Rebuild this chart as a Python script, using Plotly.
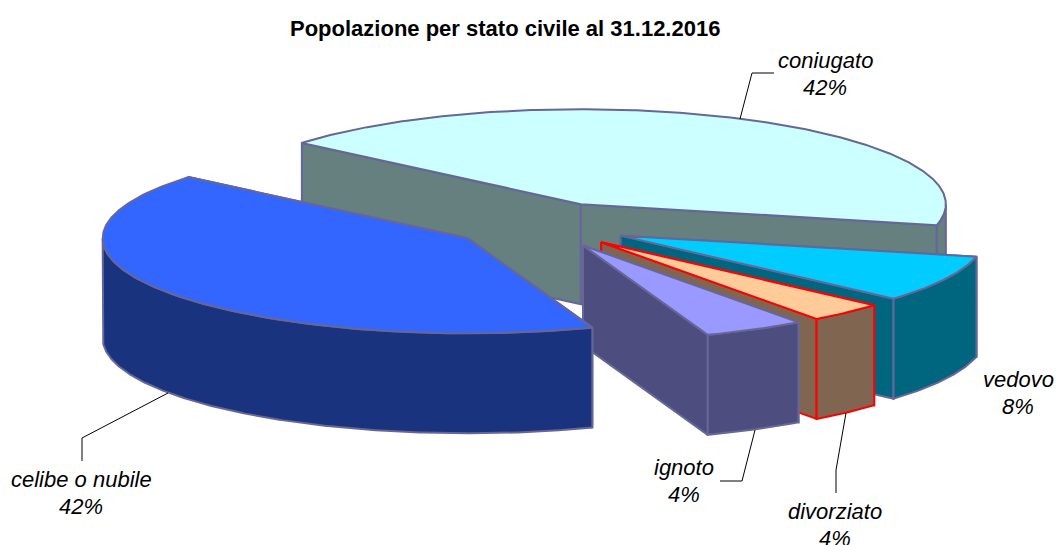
import math
import plotly.graph_objects as go

# Data, in pie order (clockwise from the start angle)
categories = ["coniugato", "vedovo", "divorziato", "ignoto", "celibe o nubile"]
shares = [42.4, 8.0, 3.4, 4.5, 41.7]
percent_labels = ["42%", "8%", "4%", "4%", "42%"]
top_colors = ["#CCFFFF", "#00CCFF", "#FFCC99", "#9999FF", "#3366FF"]
wall_colors = ["#667F7F", "#006680", "#806650", "#4D4D80", "#1A337F"]
edge_colors = ["#666699", "#666699", "#FF0000", "#666699", "#666699"]
label_x = [825, 1018, 835, 684, 81]
label_y = [60, 379, 511, 467, 479]
leaders = [
    ([740, 752, 774], [119, 73, 73]),
    None,
    ([846, 836, 836], [413, 470, 493]),
    ([755, 742, 720], [430, 481, 481]),
    ([168, 82, 82], [393, 438, 461]),
]
title_text = "Popolazione per stato civile al 31.12.2016"

# Projection of the tilted pie
CX, CY, RX, RY, DEPTH, EXPLODE, START = 541, 225, 365, 95, 100, 0.245, 139.85
LINE_GAP = 27


def point(cx, cy, deg):
    t = math.radians(deg)
    return cx + RX * math.cos(t), cy - RY * math.sin(t)


fig = go.Figure()


def poly(pts, fill, edge):
    fig.add_trace(go.Scatter(
        x=[p[0] for p in pts] + [pts[0][0]], y=[p[1] for p in pts] + [pts[0][1]],
        mode="lines", fill="toself", fillcolor=fill,
        line=dict(color=edge, width=2), hoverinfo="skip", showlegend=False))


total = sum(shares)
angle = START
slices = []
for i, s in enumerate(shares):
    span = 360 * s / total
    slices.append((i, angle, angle - span))
    angle -= span

for i, a0, a1 in slices:
    mid = math.radians((a0 + a1) / 2)
    ax = CX + EXPLODE * RX * math.cos(mid)
    ay = CY - EXPLODE * RY * math.sin(mid)
    n = max(4, int(abs(a0 - a1) * 2))
    arc_deg = [a0 + (a1 - a0) * k / n for k in range(n + 1)]
    arc = [point(ax, ay, d) for d in arc_deg]
    wall, edge = wall_colors[i], edge_colors[i]
    # radial walls
    for p in (arc[0], arc[-1]):
        poly([(ax, ay), p, (p[0], p[1] + DEPTH), (ax, ay + DEPTH)], wall, edge)
    # outer wall: only the part of the rim that faces the viewer
    front = [point(ax, ay, d) for d in arc_deg if math.sin(math.radians(d)) <= 0]
    if len(front) > 1:
        poly(front + [(x, y + DEPTH) for x, y in reversed(front)], wall, edge)
    # top
    poly([(ax, ay)] + arc, top_colors[i], edge)

for lead in leaders:
    if lead:
        fig.add_trace(go.Scatter(x=lead[0], y=lead[1], mode="lines",
                                 line=dict(color="#000000", width=1),
                                 hoverinfo="skip", showlegend=False))

label_font = dict(family="Liberation Sans", size=22, color="#000000")
for c, p, x, y in zip(categories, percent_labels, label_x, label_y):
    fig.add_annotation(x=x, y=y, text=f"<i>{c}</i>", showarrow=False, font=label_font,
                       xanchor="center", yanchor="middle")
    fig.add_annotation(x=x, y=y + LINE_GAP, text=f"<i>{p}</i>", showarrow=False, font=label_font,
                       xanchor="center", yanchor="middle")

fig.add_annotation(x=505, y=28, text=f"<b>{title_text}</b>", showarrow=False,
                   font=dict(family="Liberation Sans", size=22, color="#000000"),
                   xanchor="center", yanchor="middle")

fig.update_layout(
    width=1056, height=545, margin=dict(l=0, r=0, t=0, b=0),
    paper_bgcolor="white", plot_bgcolor="white", showlegend=False,
    xaxis=dict(range=[0, 1056], visible=False, fixedrange=True),
    yaxis=dict(range=[545, 0], visible=False, fixedrange=True),
)
fig.write_html("out.html", config=dict(displayModeBar=False),
               post_script="document.body.style.margin='0';")
